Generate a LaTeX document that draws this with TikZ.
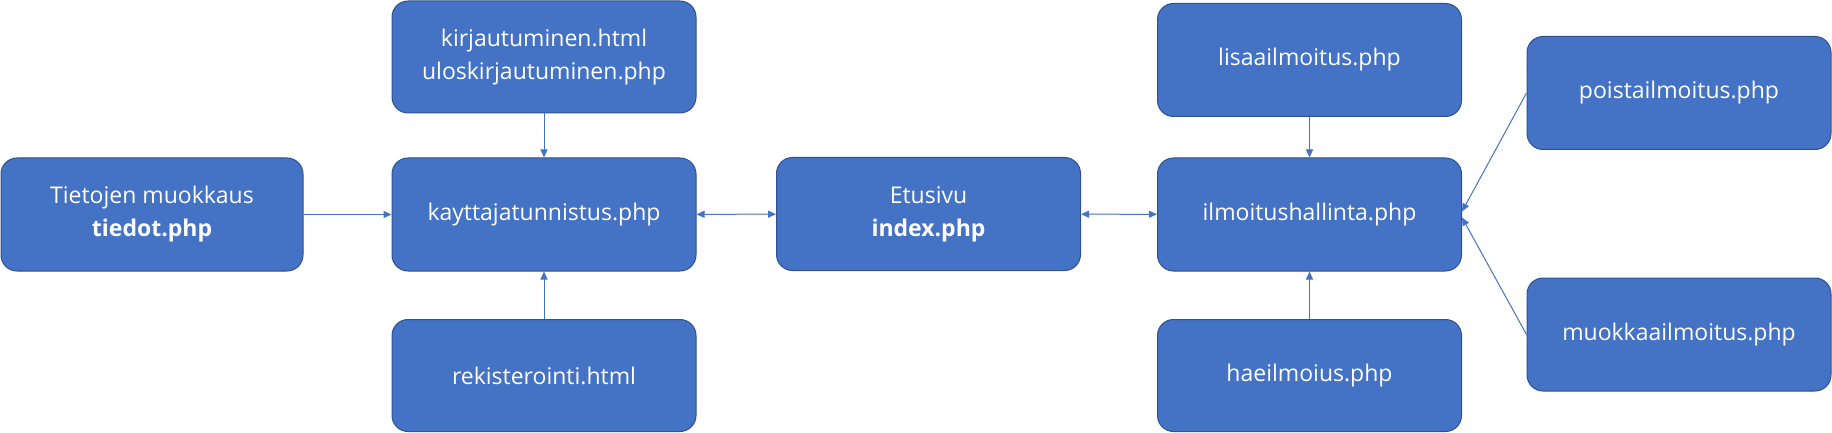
\documentclass[tikz,border=0pt]{standalone}
\usepackage{fontspec}
\setmainfont{Open Sans}
\usetikzlibrary{arrows.meta}
\definecolor{boxfill}{HTML}{4472C4}
\definecolor{boxline}{HTML}{2F528F}
\definecolor{arrcol}{HTML}{4472C4}
\tikzset{
  pbox/.style={rectangle, rounded corners=16pt, fill=boxfill, draw=boxline, line width=1pt,
    minimum width=304pt, minimum height=113pt, inner sep=0pt, text=white, align=center,
    font=\fontsize{23}{33}\selectfont},
  conn/.style={draw=arrcol, line width=1pt, -{Triangle[length=8pt,width=7pt]}},
  bconn/.style={draw=arrcol, line width=1pt, {Triangle[length=8pt,width=7pt]}-{Triangle[length=8pt,width=7pt]}}
}
\begin{document}
\begin{tikzpicture}[x=1pt,y=-1pt]
\useasboundingbox (0,0) rectangle (1832,433);
\node[pbox, minimum width=302pt] (tiedot) at (152,214.5) {Tietojen muokkaus\\\textbf{tiedot.php}};
\node[pbox, minimum height=112pt] (kirj) at (544,57) {kirjautuminen.html\\uloskirjautuminen.php};
\node[pbox] (kayt) at (544,214.5) {kayttajatunnistus.php};
\node[pbox, minimum height=112pt] (rek) at (544,375.5) {rekisterointi.html};
\node[pbox] (etu) at (928.5,214) {Etusivu\\\textbf{index.php}};
\node[pbox] (lisaa) at (1309.5,60) {lisaailmoitus.php};
\node[pbox] (ilm) at (1309.5,214.5) {ilmoitushallinta.php};
\node[pbox, minimum height=112pt] (hae) at (1309.5,375.5) {haeilmoius.php};
\node[pbox] (poista) at (1679,93) {poistailmoitus.php};
\node[pbox] (muok) at (1679,334.5) {muokkaailmoitus.php};
\draw[conn] (tiedot) -- (kayt);
\draw[conn] (kirj) -- (kayt);
\draw[conn] (rek) -- (kayt);
\draw[bconn] (kayt) -- (etu);
\draw[bconn] (etu) -- (ilm);
\draw[conn] (lisaa) -- (ilm);
\draw[conn] (hae) -- (ilm);
\draw[conn] (poista.west) -- ([yshift=3pt]ilm.east);
\draw[conn] (muok.west) -- ([yshift=-3pt]ilm.east);
\end{tikzpicture}
\end{document}
